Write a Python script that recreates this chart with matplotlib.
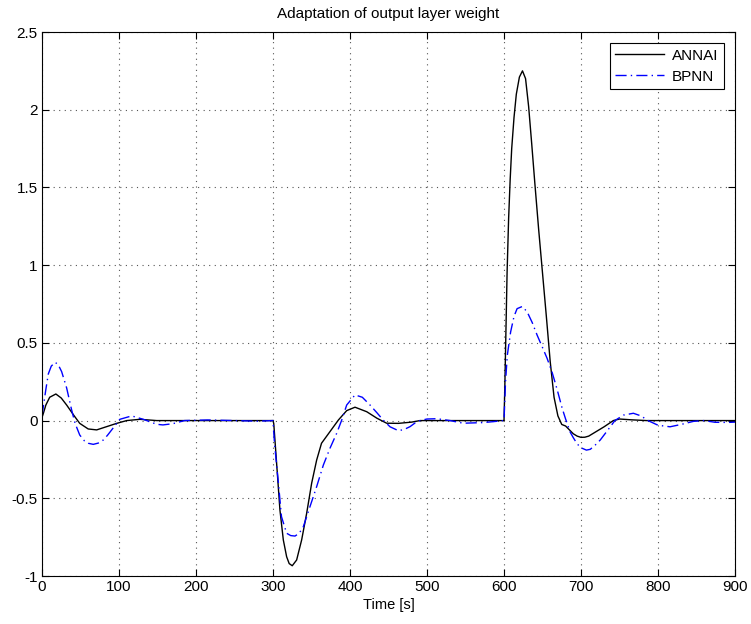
import matplotlib
matplotlib.use("Agg")
import matplotlib.pyplot as plt

plt.rcParams['font.family'] = ['Liberation Sans', 'DejaVu Sans']
plt.rcParams['axes.unicode_minus'] = False

# Time samples (s)
t_annai = [0, 2, 5, 10, 18, 25, 32, 41, 49, 60, 71, 84, 97, 110, 127, 149, 200, 250, 300,
           301, 305, 309, 313.4, 317.7, 321, 325, 330.7, 337.2, 343.7, 350.2, 356.7, 363, 374, 385,
           395.7, 406.5, 421.7, 435, 447.6, 462.8, 480, 491, 550, 600,
           601, 602, 603, 604, 606, 608, 610, 613, 616, 620, 624, 628, 632, 636, 640, 645, 650,
           655, 660, 665, 670, 675, 680, 685, 690, 695, 700, 705, 710, 720, 730, 742, 750, 765,
           785, 850, 900]
annai = [0.02, 0.05, 0.10, 0.15, 0.171, 0.145, 0.10, 0.036, -0.018, -0.054, -0.06, -0.039,
         -0.018, 0.0, 0.008, 0.0, 0.0, 0.0, 0.0,
         -0.02, -0.296, -0.575, -0.768, -0.876, -0.92, -0.934, -0.897, -0.768, -0.597, -0.403,
         -0.254, -0.146, -0.071, 0.004, 0.064, 0.086, 0.057, 0.015, -0.017, -0.018, -0.01, 0.0,
         0.0, 0.0,
         0.2, 0.45, 0.7, 0.95, 1.3, 1.55, 1.75, 1.95, 2.1, 2.21, 2.25, 2.2, 2.02, 1.78, 1.53,
         1.23, 0.95, 0.67, 0.38, 0.15, 0.03, -0.025, -0.035, -0.06, -0.085, -0.1, -0.108,
         -0.107, -0.1, -0.07, -0.04, 0.0, 0.01, 0.005, 0.0, 0.0, 0.0]

t_bpnn = [0, 2, 5, 8.2, 12, 17, 21, 25.5, 32, 38.5, 43, 49, 55, 60, 66.6, 73, 79.6, 85, 90.5,
          101, 116.5, 131.6, 149, 157, 170, 185, 215, 250, 280, 300,
          302, 307, 311, 317.7, 323, 328.6, 334, 339.4, 348, 356.7, 365.4, 374, 382.7, 389,
          395.7, 406.5, 416, 426, 435, 443, 452, 462.8, 470, 478, 484, 491, 500, 512.6, 530,
          547, 573, 590, 600,
          602, 604.3, 608.6, 613, 617, 623.7, 630, 636.7, 643, 650, 656, 662.5, 669, 675.5,
          680, 686, 690, 695, 700, 707, 712, 718, 725, 735, 744, 755, 768, 778, 787, 800,
          815.6, 830, 846, 860, 874, 890, 900]
bpnn = [0.03, 0.1, 0.2, 0.30, 0.35, 0.375, 0.36, 0.315, 0.21, 0.068, -0.018, -0.093, -0.13,
        -0.146, -0.153, -0.145, -0.125, -0.095, -0.06, 0.008, 0.03, 0.008, -0.024, -0.028,
        -0.02, 0.0, 0.004, 0.0, -0.004, 0.0,
        -0.15, -0.4, -0.618, -0.725, -0.74, -0.743, -0.725, -0.683, -0.554, -0.425, -0.286,
        -0.178, -0.082, 0.0, 0.1, 0.165, 0.15, 0.1, 0.05, 0.004, -0.04, -0.065, -0.058,
        -0.039, -0.017, 0.0, 0.01, 0.012, 0.0, -0.017, -0.013, -0.005, 0.0,
        0.25, 0.42, 0.57, 0.67, 0.72, 0.734, 0.70, 0.63, 0.55, 0.47, 0.40, 0.31,
        0.2, 0.08, 0.01, -0.075, -0.11, -0.15, -0.175, -0.19, -0.185, -0.16, -0.125, -0.06,
        0.0, 0.035, 0.047, 0.03, 0.0, -0.03, -0.04, -0.025, -0.005, 0.0, -0.011, -0.012,
        -0.01]

xticks = [0, 100, 200, 300, 400, 500, 600, 700, 800, 900]
yticks = [-1, -0.5, 0, 0.5, 1, 1.5, 2, 2.5]
ytick_labels = ["-1", "-0.5", "0", "0.5", "1", "1.5", "2", "2.5"]

fig = plt.figure(figsize=(7.51, 6.24), dpi=100)
ax = fig.add_axes([42 / 751, 1 - 576 / 624, (735 - 42) / 751, (576 - 32) / 624])

ax.plot(t_annai, annai, color='black', linewidth=1.0, label='ANNAI')
ax.plot(t_bpnn, bpnn, color='blue', linewidth=1.0, linestyle=(0, (8, 3, 1, 3)), label='BPNN')

ax.set_xlim(0, 900)
ax.set_ylim(-1, 2.5)
ax.set_xticks(xticks)
ax.set_xticklabels([str(v) for v in xticks])
ax.set_yticks(yticks)
ax.set_yticklabels(ytick_labels)
ax.grid(True, linestyle=(0, (1, 4)), color='#555555', linewidth=0.8)
ax.tick_params(direction='in', top=True, right=True, length=5, width=0.8, labelsize=11, pad=3)
for s in ax.spines.values():
    s.set_linewidth(0.8)

ax.set_title('Adaptation of output layer weight', fontsize=11, pad=10)
ax.set_xlabel('Time [s]', fontsize=10.5, labelpad=3)

leg = ax.legend(loc='upper right', fontsize=11, fancybox=False, framealpha=1,
                edgecolor='black', borderaxespad=0.75, handlelength=3.2,
                borderpad=0.35, labelspacing=0.45, handletextpad=0.5)
leg.get_frame().set_linewidth(0.8)

fig.savefig('out.png', dpi=100)
